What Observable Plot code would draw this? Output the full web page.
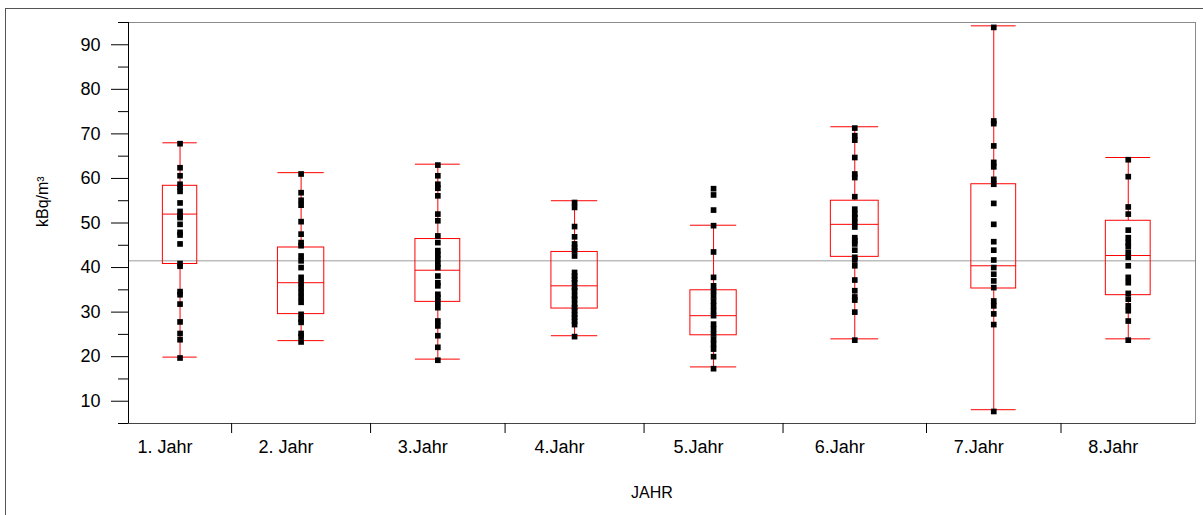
<!DOCTYPE html>
<html><head><meta charset="utf-8">
<script src="https://cdn.jsdelivr.net/npm/d3@7"></script>
<script src="https://cdn.jsdelivr.net/npm/@observablehq/plot@0.6"></script>
<style>
body{margin:0;background:#fff;}
#wrap{position:relative;width:1203px;height:515px;overflow:hidden;background:#fff;}
#wrap svg{position:absolute;left:0;top:0;}
#border{position:absolute;left:5px;top:8px;right:-5px;bottom:-5px;border-left:1px solid #555;border-top:1px solid #555;pointer-events:none;}
</style></head><body><div id="wrap"><div id="border"></div></div>
<script>
// Categories and group sizes (JMP band width is proportional to n)
const years = ["1. Jahr","2. Jahr","3.Jahr","4.Jahr","5.Jahr","6.Jahr","7.Jahr","8.Jahr"];
const counts = [23, 31, 30, 31, 31, 32, 30, 30];

// Box-plot statistics (kBq/m³)
const whiskerLow  = [19.9, 23.6, 19.45, 24.7, 17.7, 24.0, 8.1, 24.0];
const quartile1   = [40.8, 29.55, 32.3, 30.8, 24.8, 42.4, 35.3, 33.8];
const medians     = [52.0, 36.6, 39.4, 35.9, 29.2, 49.7, 40.4, 42.7];
const quartile3   = [58.35, 44.5, 46.4, 43.5, 34.9, 55.0, 58.7, 50.5];
const whiskerHigh = [68.0, 61.3, 63.2, 55.0, 49.5, 71.6, 94.25, 64.7];
const grandMean = 41.5;

// Visible individual measurements per year
const year1 = [67.8, 62.4, 60.6, 58.7, 58.0, 57.1, 54.5, 52.6, 51.6, 51.2, 49.7, 47.9, 47.3, 45.3, 40.9, 40.3, 34.6, 33.9, 31.8, 27.8, 25.2, 23.8, 19.7];
const year2 = [61.0, 56.8, 55.1, 54.0, 50.3, 47.5, 45.6, 44.9, 42.6, 41.5, 40.0, 37.8, 36.6, 35.5, 34.4, 33.3, 32.2, 29.5, 28.4, 27.7, 25.2, 24.5, 23.3];
const year3 = [63.0, 60.6, 58.7, 57.8, 56.1, 52.0, 50.5, 47.1, 45.6, 43.8, 42.9, 41.9, 40.8, 40.0, 38.1, 36.6, 35.9, 34.0, 33.3, 32.2, 31.0, 28.0, 26.9, 24.7, 22.1, 19.2];
const year4 = [54.6, 53.5, 49.2, 46.9, 45.3, 44.5, 43.8, 42.6, 38.9, 38.1, 37.4, 36.6, 35.5, 34.8, 33.7, 32.9, 31.8, 31.0, 30.3, 29.5, 28.8, 28.0, 27.2, 24.5];
const year5 = [57.7, 56.3, 52.9, 49.4, 43.5, 37.8, 35.9, 34.8, 33.7, 32.5, 31.4, 30.3, 29.2, 27.3, 26.2, 25.1, 23.9, 22.8, 21.7, 20.0, 17.3];
const year6 = [71.3, 69.6, 68.6, 64.7, 61.0, 60.2, 55.9, 53.1, 52.0, 51.2, 50.1, 49.1, 46.7, 46.0, 45.3, 43.9, 42.3, 41.7, 40.4, 37.2, 34.8, 33.4, 32.7, 30.0, 23.7];
const year7 = [93.9, 72.9, 72.3, 67.3, 63.6, 62.6, 59.8, 58.7, 54.4, 49.7, 45.8, 43.9, 41.7, 40.0, 38.5, 37.0, 35.5, 32.5, 31.4, 29.6, 27.2, 7.7];
const year8 = [64.2, 60.4, 53.6, 52.0, 48.4, 46.7, 45.6, 44.7, 43.4, 42.3, 40.4, 37.8, 36.6, 34.2, 32.9, 31.4, 30.3, 28.0, 23.7];

const yTicks = [10, 20, 30, 40, 50, 60, 70, 80, 90];
const yMinorTicks = [5, 15, 25, 35, 45, 55, 65, 75, 85, 95];

// Build tables for the library
const allPoints = [year1, year2, year3, year4, year5, year6, year7, year8];
const total = d3.sum(counts);
const starts = counts.map((_, i) => d3.sum(counts.slice(0, i)));
const groups = years.map((year, i) => {
  const x1 = starts[i], x2 = starts[i] + counts[i], xc = (x1 + x2) / 2, half = counts[i] / 6;
  return {year, x1, x2, xc, bx1: xc - half, bx2: xc + half,
    lo: whiskerLow[i], q1: quartile1[i], med: medians[i], q3: quartile3[i], hi: whiskerHigh[i]};
});
const boundaries = starts.slice(1);
const points = allPoints.flatMap((arr, i) => arr.map(v => ({xc: groups[i].xc, v})));

const RED = "#ff0000";
const chart = Plot.plot({
  width: 1203,
  height: 515,
  marginLeft: 128,
  marginRight: 8,
  marginTop: 22,
  marginBottom: 92,
  style: {fontFamily: "'Liberation Sans', Arial, sans-serif", background: "transparent", color: "black"},
  x: {type: "linear", domain: [0, total]},
  y: {domain: [5, 95]},
  marks: [
    Plot.ruleY([grandMean], {stroke: "#bdbdbd", strokeWidth: 1.5}),
    Plot.frame({stroke: "#8a8a8a"}),
    Plot.ruleX([0], {stroke: "black"}),
    Plot.ruleY([5], {stroke: "#444"}),
    Plot.axisY({ticks: yMinorTicks, tickSize: 10, tickFormat: () => ""}),
    Plot.axisY({ticks: yTicks, tickSize: 17, tickPadding: 11, fontSize: 18, tickFormat: d => d}),
    Plot.axisX({ticks: boundaries, tickSize: 10, tickFormat: () => ""}),
    Plot.text(groups, {x: "xc", text: "year", frameAnchor: "bottom", dy: 24, dx: -15, fontSize: 18, lineAnchor: "middle"}),
    Plot.ruleX(groups, {x: "xc", y1: "lo", y2: "q1", stroke: RED}),
    Plot.ruleX(groups, {x: "xc", y1: "q3", y2: "hi", stroke: RED}),
    Plot.ruleY(groups, {y: "lo", x1: "bx1", x2: "bx2", stroke: RED}),
    Plot.ruleY(groups, {y: "hi", x1: "bx1", x2: "bx2", stroke: RED}),
    Plot.rect(groups, {x1: "bx1", x2: "bx2", y1: "q1", y2: "q3", fill: "none", stroke: RED}),
    Plot.ruleY(groups, {y: "med", x1: "bx1", x2: "bx2", stroke: RED}),
    Plot.dot(points, {x: "xc", y: "v", symbol: "square", r: 3.2, fill: "black", stroke: null}),
    Plot.text(["kBq/m³"], {frameAnchor: "left", rotate: -90, dx: -86, dy: 4, fontSize: 16}),
    Plot.text(["JAHR"], {frameAnchor: "bottom", dy: 74, dx: -10, fontSize: 16})
  ]
});
document.getElementById("wrap").prepend(chart);
</script>
</body></html>
